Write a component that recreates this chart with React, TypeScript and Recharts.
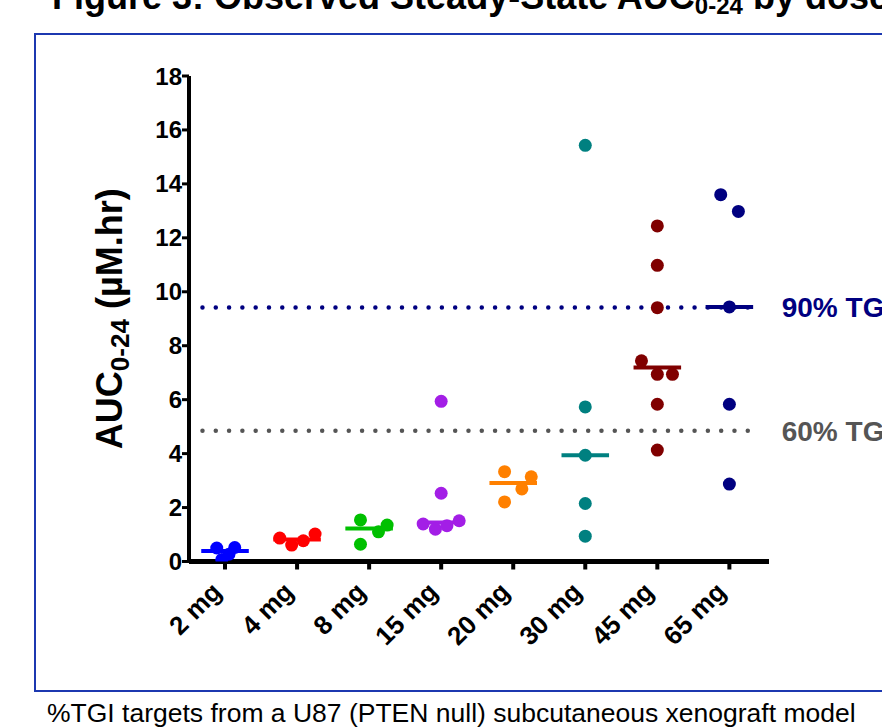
import React from 'react';
import { ScatterChart, Scatter, XAxis, YAxis, ReferenceLine } from 'recharts';

// dose groups on the x axis
const doses = ['2 mg', '4 mg', '8 mg', '15 mg', '20 mg', '30 mg', '45 mg', '65 mg'];
const doseColors = ['#0000ff', '#ff0000', '#00c000', '#a31ee6', '#ff8000', '#008080', '#800000', '#000080'];

// observed AUC0-24 (uM.hr) per animal, with the horizontal scatter used in the figure
const auc2mg = [0.5, 0.52, 0.07, 0.27];
const jitter2mg = [-0.115, 0.135, -0.045, 0.055];
const auc4mg = [0.87, 0.61, 0.77, 1.02];
const jitter4mg = [-0.24, -0.075, 0.087, 0.25];
const auc8mg = [1.54, 1.1, 1.35, 0.64];
const jitter8mg = [-0.12, 0.13, 0.25, -0.12];
const auc15mg = [5.94, 2.53, 1.39, 1.2, 1.33, 1.51];
const jitter15mg = [0, 0, -0.25, -0.08, 0.08, 0.25];
const auc20mg = [3.33, 3.14, 2.69, 2.21];
const jitter20mg = [-0.12, 0.25, 0.12, -0.12];
const auc30mg = [15.43, 5.73, 3.94, 2.15, 0.94];
const jitter30mg = [0, 0, 0, 0, 0];
const auc45mg = [12.44, 10.98, 9.41, 7.44, 6.94, 6.94, 5.83, 4.13];
const jitter45mg = [0, 0, 0, -0.22, 0, 0.21, 0, 0];
const auc65mg = [13.6, 12.98, 9.44, 5.83, 2.87];
const jitter65mg = [-0.12, 0.125, 0, 0, 0];

const aucByDose = [auc2mg, auc4mg, auc8mg, auc15mg, auc20mg, auc30mg, auc45mg, auc65mg];
const jitterByDose = [jitter2mg, jitter4mg, jitter8mg, jitter15mg, jitter20mg, jitter30mg, jitter45mg, jitter65mg];

const yTicks = [0, 2, 4, 6, 8, 10, 12, 14, 16, 18];

// %TGI target exposures
const tgiLevels = [9.42, 4.85];
const tgiNames = ['90% TGI', '60% TGI'];
const tgiColors = ['#000080', '#555555'];

const FONT = '"Liberation Sans", Arial, Helvetica, sans-serif';

const median = (vals: number[]) => {
  const s = [...vals].sort((a, b) => a - b);
  const m = Math.floor(s.length / 2);
  return s.length % 2 ? s[m] : (s[m - 1] + s[m]) / 2;
};

const groups = doses.map((d, i) => ({
  name: d,
  color: doseColors[i],
  points: aucByDose[i].map((v, j) => ({ x: i + 1 + jitterByDose[i][j], y: v })),
  median: median(aucByDose[i]),
}));

const DoseTick = (props: any) => {
  const { x, y, payload } = props;
  const label = doses[Math.round(payload.value) - 1];
  return (
    <g transform={`translate(${x - 2},${y + 22})`}>
      <text
        textAnchor="end"
        transform="rotate(-45)"
        fontFamily={FONT}
        fontWeight="bold"
        fontSize={26}
        fill="#000"
      >
        {label}
      </text>
    </g>
  );
};

const AucLabel = (props: any) => {
  const vb = props.viewBox || { x: 0, y: 76, width: 189, height: 485 };
  const cx = vb.x + 122;
  const cy = vb.y + vb.height / 2;
  return (
    <text
      transform={`translate(${cx},${cy}) rotate(-90)`}
      textAnchor="middle"
      fontFamily={FONT}
      fontWeight="bold"
      fontSize={36}
      fill="#000"
    >
      AUC
      <tspan fontSize={26} dy={7}>0-24</tspan>
      <tspan dy={-7}> (µM.hr)</tspan>
    </text>
  );
};

export default function App() {
  return (
    <div style={{ position: 'absolute', left: 0, top: 0, width: 882, height: 727, overflow: 'hidden', background: '#fff' }}>
      <svg width={882} height={727} style={{ position: 'absolute', left: 0, top: 0 }}>
        <rect x={35} y={34} width={900} height={657} fill="none" stroke="#1c38b0" strokeWidth={2} />
        <text x={52} y={9} fontFamily={FONT} fontWeight="bold" fontSize={36} fill="#000">
          Figure 3: Observed Steady-State AUC
          <tspan fontSize={24} dy={5}>0-24</tspan>
          <tspan dy={-5}> by dose</tspan>
        </text>
        <text x={47} y={722} fontFamily={FONT} fontSize={26.5} fill="#000">
          %TGI targets from a U87 (PTEN null) subcutaneous xenograft model
        </text>
      </svg>
      <div style={{ position: 'absolute', left: 0, top: 0 }}>
        <ScatterChart width={882} height={727} margin={{ top: 76, right: 113, bottom: 65, left: 0 }}>
          <XAxis
            type="number"
            dataKey="x"
            domain={[0.5, 8.55]}
            ticks={[1, 2, 3, 4, 5, 6, 7, 8]}
            interval={0}
            height={100.5}
            axisLine={{ stroke: '#000', strokeWidth: 5 }}
            tickLine={{ stroke: '#000', strokeWidth: 4 }}
            tickSize={8}
            tick={<DoseTick />}
            allowDataOverflow
          />
          <YAxis
            type="number"
            dataKey="y"
            domain={[0, 18]}
            ticks={yTicks}
            interval={0}
            width={189}
            axisLine={{ stroke: '#000', strokeWidth: 4 }}
            tickLine={{ stroke: '#000', strokeWidth: 3 }}
            tickSize={7}
            tickMargin={0}
            tick={{ fill: '#000', fontSize: 24, fontWeight: 'bold', fontFamily: FONT }}
            label={<AucLabel />}
            allowDataOverflow
          />
          {tgiLevels.map((lvl, i) => (
            <ReferenceLine
              key={tgiNames[i]}
              segment={[{ x: 0.687, y: lvl }, { x: 8.435, y: lvl }]}
              stroke={tgiColors[i]}
              strokeWidth={4.5}
              strokeDasharray="0 13.3"
              strokeLinecap="round"
              label={{
                value: tgiNames[i],
                position: 'right',
                offset: 21,
                fill: tgiColors[i],
                fontSize: 28,
                fontWeight: 'bold',
                fontFamily: FONT,
              }}
            />
          ))}
          {groups.map((g, i) => (
            <ReferenceLine
              key={'med-' + g.name}
              segment={[{ x: i + 1 - 0.33, y: g.median }, { x: i + 1 + 0.33, y: g.median }]}
              stroke={g.color}
              strokeWidth={4}
            />
          ))}
          {groups.map((g) => (
            <Scatter
              key={g.name}
              name={g.name}
              data={g.points}
              fill={g.color}
              isAnimationActive={false}
              shape={(p: any) => <circle cx={p.cx} cy={p.cy} r={6.5} fill={g.color} />}
            />
          ))}
        </ScatterChart>
      </div>
    </div>
  );
}
